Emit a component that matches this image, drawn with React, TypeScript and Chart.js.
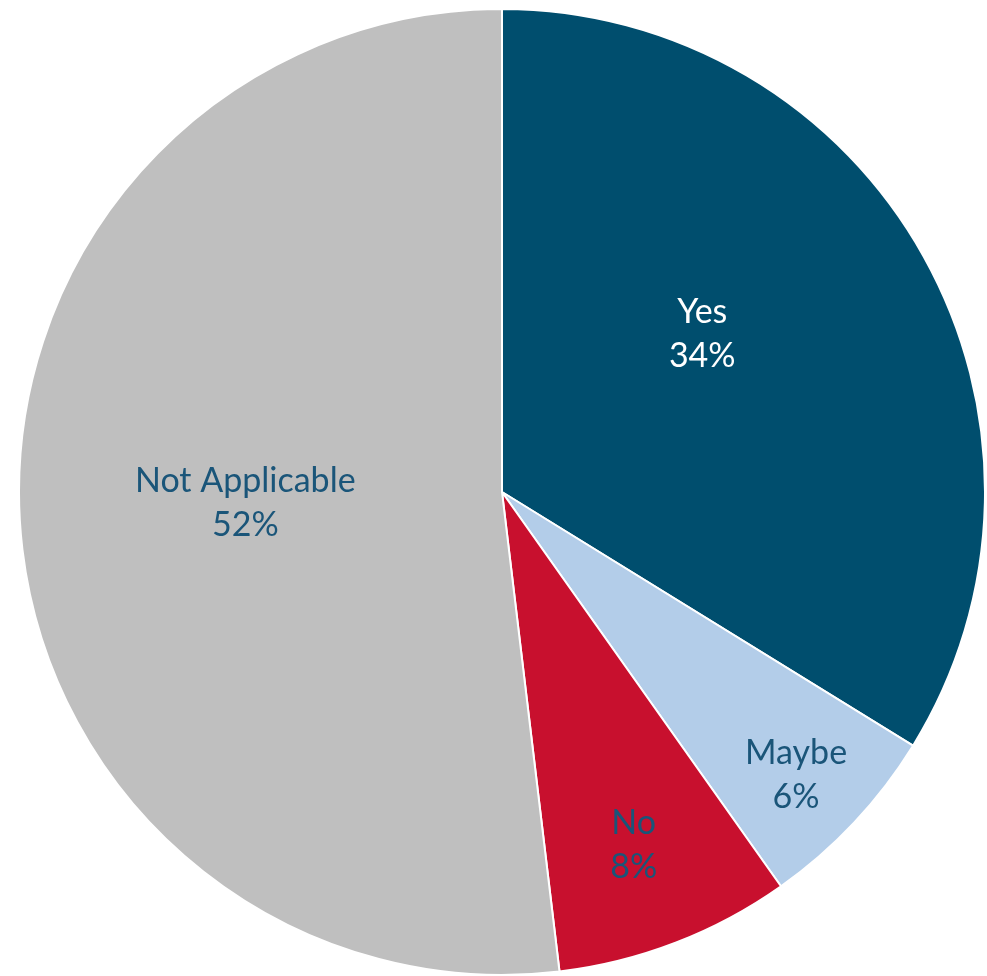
import React, { useEffect, useRef } from "react";
import { Chart, registerables } from "chart.js";

Chart.register(...registerables);

const categories = ["Yes", "Maybe", "No", "Not Applicable"];
const values = [33.8, 6.4, 7.9, 51.9];
const percentLabels = ["34%", "6%", "8%", "52%"];
const colors = ["#004E6E", "#B3CDE9", "#C8102E", "#BFBFBF"];
const textColors = ["#FFFFFF", "#1A5579", "#1A5579", "#1A5579"];
// label placement (style): radius fraction and angle offset (degrees) from slice middle
const labelRadiusFactor = [0.528, 0.845, 0.78, 0.532];
const labelAngleOffset = [-9.1, 0.7, 0.6, 0.9];

const labelPlugin = {
  id: "sliceLabels",
  afterDatasetsDraw(chart: any) {
    const ctx = chart.ctx;
    const meta = chart.getDatasetMeta(0);
    ctx.save();
    ctx.font = "34px Lato, 'Open Sans', sans-serif";
    ctx.textAlign = "center";
    ctx.textBaseline = "middle";
    meta.data.forEach((arc: any, i: number) => {
      const { x, y, startAngle, endAngle, outerRadius } = arc.getProps(
        ["x", "y", "startAngle", "endAngle", "outerRadius"],
        true
      );
      const mid = (startAngle + endAngle) / 2 + (labelAngleOffset[i] * Math.PI) / 180;
      const r = outerRadius * labelRadiusFactor[i];
      const cx = x + Math.cos(mid) * r;
      const cy = y + Math.sin(mid) * r;
      ctx.fillStyle = textColors[i];
      ctx.fillText(categories[i], cx, cy - 22);
      ctx.fillText(percentLabels[i], cx, cy + 22);
    });
    ctx.restore();
  },
};

export default function App() {
  const ref = useRef<HTMLCanvasElement | null>(null);
  useEffect(() => {
    if (!ref.current) return;
    const chart = new Chart(ref.current, {
      type: "pie",
      data: {
        labels: categories,
        datasets: [
          {
            data: values,
            backgroundColor: colors,
            borderColor: "#FFFFFF",
            borderWidth: 2,
          },
        ],
      },
      options: {
        animation: false,
        responsive: false,
        maintainAspectRatio: false,
        layout: { padding: { left: 17, right: 0, top: 8, bottom: 0 } },
        plugins: {
          legend: { display: false },
          tooltip: { enabled: false },
        },
      },
      plugins: [labelPlugin],
    });
    return () => chart.destroy();
  }, []);
  return (
    <div style={{ position: "absolute", left: 0, top: 0, width: 987, height: 976, background: "#FFFFFF" }}>
      <canvas ref={ref} width={987} height={976} style={{ width: 987, height: 976 }} />
    </div>
  );
}
